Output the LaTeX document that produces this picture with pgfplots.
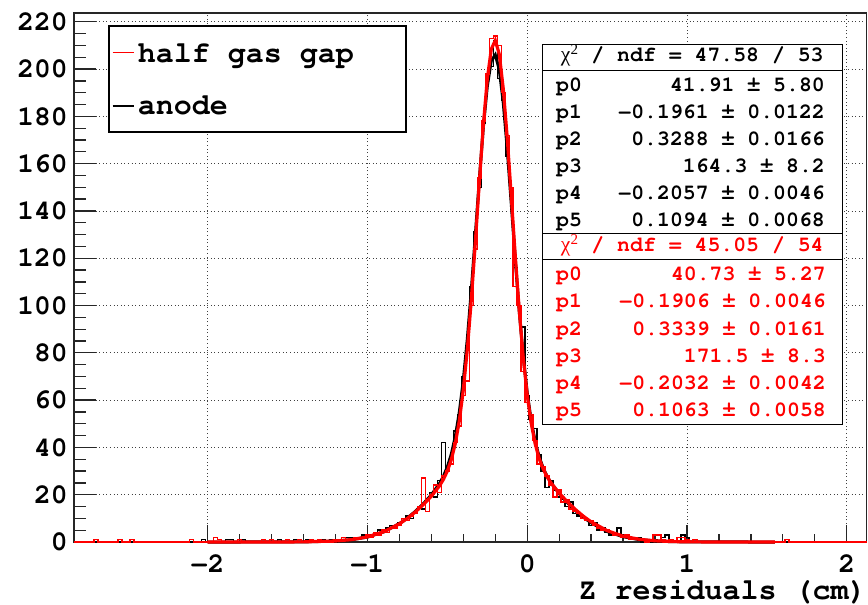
\documentclass[border=0pt]{standalone}
\usepackage{fontspec}
\setmainfont{TeX Gyre Cursor}
\newfontfamily\grk{Liberation Serif}
\usepackage{pgfplots}
\pgfplotsset{compat=1.18}
\newcommand{\tickf}{\fontsize{28bp}{30bp}\selectfont\bfseries}
\newcommand{\titf}{\fontsize{30bp}{32bp}\selectfont\bfseries}
\newcommand{\statf}{\fontsize{21.5bp}{24bp}\selectfont\bfseries}
\newcommand{\chisq}{{\grk\mdseries χ}\textsuperscript{\grk\mdseries 2}}
\begin{document}
\begin{tikzpicture}
\useasboundingbox (-74bp,-63bp) rectangle (794bp,542bp);
\begin{axis}[
  at={(0,0)}, anchor=south west,
  scale only axis, width=792.7bp, height=529bp,
  xmin=-2.837, xmax=2.125, ymin=0, ymax=223.7,
  xtick={-2,-1,0,1,2}, xticklabels={−2,−1,0,1,2},
  ytick={0,20,40,60,80,100,120,140,160,180,200,220},
  yticklabels={0,20,40,60,80,100,120,140,160,180,200,220},
  minor x tick num=4, minor y tick num=3,
  xtick pos=lower, ytick pos=left, tick align=inside,
  major x tick style={/pgfplots/major tick length=17bp},
  minor x tick style={/pgfplots/minor tick length=8bp},
  major y tick style={/pgfplots/major tick length=22bp},
  minor y tick style={/pgfplots/minor tick length=12bp},
  grid=major,
  major grid style={black!75, line width=0.8bp, dash pattern=on 1bp off 2.6bp},
  axis line style={black!85, line width=1.3bp},
  tick style={black!85, line width=1.3bp},
  ticklabel style={font=\tickf},
  yticklabel style={inner sep=0pt, anchor=east, xshift=-6bp},
  xticklabel style={inner sep=0pt, anchor=north, yshift=-12bp},
  xlabel={Z residuals (cm)},
  xlabel style={font=\titf, at={(axis description cs:1,0)}, anchor=base east, inner sep=0pt, yshift=-57bp},
  clip=false,
]
% anode histogram
\addplot[black, line width=1.5bp, const plot mark mid] coordinates {
(-2.837,0) (-2.05,0) (-2.025,1) (-2.0,0) (-1.9,0) (-1.875,1) (-1.85,1) (-1.825,0) (-1.8,0) (-1.775,1) (-1.75,0) (-1.575,0) (-1.55,1) (-1.525,0) (-1.475,0) (-1.45,1) (-1.425,0) (-1.4,0) (-1.375,1) (-1.35,0) (-1.3,0) (-1.275,1) (-1.25,0) (-1.225,1) (-1.2,0) (-1.175,1) (-1.15,1) (-1.125,2) (-1.1,2) (-1.075,1) (-1.05,2) (-1.025,3) (-1.0,2) (-0.975,3) (-0.95,4) (-0.925,5) (-0.9,4) (-0.875,6) (-0.85,7) (-0.825,6) (-0.8,8) (-0.775,9) (-0.75,11) (-0.725,10) (-0.7,13) (-0.675,15) (-0.65,14) (-0.625,18) (-0.6,21) (-0.575,19) (-0.55,26) (-0.525,42) (-0.5,30) (-0.475,36) (-0.45,47) (-0.425,54) (-0.4,70) (-0.375,83) (-0.35,108) (-0.325,131) (-0.3,150) (-0.275,177) (-0.25,196) (-0.225,201) (-0.2,212) (-0.175,196) (-0.15,187) (-0.125,163) (-0.1,146) (-0.075,116) (-0.05,100) (-0.025,91) (0,62) (0.025,52) (0.05,48) (0.075,37) (0.1,30) (0.125,23) (0.15,26) (0.175,22) (0.2,19) (0.225,18) (0.25,15) (0.275,17) (0.3,12) (0.325,11) (0.35,10) (0.375,9) (0.4,7) (0.425,8) (0.45,5) (0.475,6) (0.5,4) (0.525,3) (0.55,4) (0.575,6) (0.6,3) (0.625,2) (0.65,1) (0.675,1) (0.7,2) (0.725,0) (0.75,1) (0.775,0) (0.8,1) (0.825,0) (0.85,2) (0.875,3) (0.9,1) (0.925,0) (0.95,0) (0.975,3) (1.0,2) (1.025,0) (2.125,0)
};
% anode fit
\addplot[black, line width=3bp] coordinates {
(-2.0,0) (-1.8,0.0003) (-1.6,0.0046) (-1.4,0.0515) (-1.2,0.396) (-1.1,0.957) (-1.0,2.108) (-0.9,4.236) (-0.8,7.757) (-0.75,10.14) (-0.7,12.96) (-0.65,16.20) (-0.6,19.96) (-0.55,24.64) (-0.525,27.73) (-0.5,31.75) (-0.475,37.18) (-0.45,44.69) (-0.425,54.92) (-0.4,68.51) (-0.375,85.76) (-0.35,106.4) (-0.325,129.5) (-0.3,153.2) (-0.275,175.2) (-0.25,192.7) (-0.225,203.5) (-0.2,206.0) (-0.175,199.8) (-0.15,185.8) (-0.125,166.1) (-0.1,143.2) (-0.075,119.6) (-0.05,97.64) (-0.025,78.6) (0,63.13) (0.025,51.21) (0.05,42.37) (0.075,35.94) (0.1,31.25) (0.125,27.71) (0.15,24.92) (0.2,20.46) (0.25,16.73) (0.3,13.43) (0.35,10.55) (0.4,8.10) (0.5,4.455) (0.6,2.235) (0.7,1.022) (0.8,0.426) (0.9,0.162) (1.0,0.056) (1.2,0.005) (1.4,0) (1.55,0)
};
% half gas gap histogram
\addplot[red, line width=1.5bp, const plot mark mid] coordinates {
(-2.837,0) (-2.725,0) (-2.7,1) (-2.675,0) (-2.575,0) (-2.55,1) (-2.525,0) (-2.5,0) (-2.475,1) (-2.45,0) (-2.125,0) (-2.1,1) (-2.075,0) (-1.975,0) (-1.95,2) (-1.925,1) (-1.9,0) (-1.825,0) (-1.8,1) (-1.775,0) (-1.675,0) (-1.65,1) (-1.625,0) (-1.6,1) (-1.575,0) (-1.525,0) (-1.5,1) (-1.475,0) (-1.45,0) (-1.425,1) (-1.4,0) (-1.375,0) (-1.35,1) (-1.325,0) (-1.3,1) (-1.275,0) (-1.25,0) (-1.225,0) (-1.2,1) (-1.175,1) (-1.15,2) (-1.125,1) (-1.1,1) (-1.075,2) (-1.05,2) (-1.025,2) (-1.0,3) (-0.975,2) (-0.95,4) (-0.925,3) (-0.9,5) (-0.875,4) (-0.85,6) (-0.825,6) (-0.8,7) (-0.775,10) (-0.75,9) (-0.725,11) (-0.7,12) (-0.675,15) (-0.65,27) (-0.625,13) (-0.6,20) (-0.575,24) (-0.55,21) (-0.525,28) (-0.5,30) (-0.475,33) (-0.45,42) (-0.425,49) (-0.4,62) (-0.375,68) (-0.35,100) (-0.325,124) (-0.3,154) (-0.275,178) (-0.25,198) (-0.225,213) (-0.2,214) (-0.175,210) (-0.15,190) (-0.125,172) (-0.1,150) (-0.075,108) (-0.05,100) (-0.025,72) (0,59) (0.025,54) (0.05,43) (0.075,33) (0.1,32) (0.125,28) (0.15,24) (0.175,19) (0.2,22) (0.225,17) (0.25,18) (0.275,14) (0.3,13) (0.325,12) (0.35,10) (0.375,9) (0.4,9) (0.425,7) (0.45,6) (0.475,5) (0.5,5) (0.525,4) (0.55,3) (0.575,3) (0.6,2) (0.625,3) (0.65,1) (0.675,2) (0.7,1) (0.725,1) (0.75,0) (0.775,1) (0.8,3) (0.825,3) (0.85,1) (0.875,0) (0.9,1) (0.925,0) (0.95,2) (0.975,2) (1.0,1) (1.025,0) (1.05,1) (1.075,0) (1.6,0) (1.625,1) (1.65,0) (2.125,0)
};
% half gas gap fit
\addplot[red, line width=3.2bp] coordinates {
(-2.0,0) (-1.8,0.0004) (-1.6,0.0055) (-1.4,0.0577) (-1.2,0.422) (-1.1,0.998) (-1.0,2.157) (-0.9,4.264) (-0.8,7.70) (-0.75,10.01) (-0.7,12.72) (-0.65,15.83) (-0.6,19.37) (-0.55,23.66) (-0.525,26.42) (-0.5,30.0) (-0.475,34.87) (-0.45,41.70) (-0.425,51.28) (-0.4,64.36) (-0.375,81.43) (-0.35,102.4) (-0.325,126.5) (-0.3,151.9) (-0.275,176.0) (-0.25,195.8) (-0.225,208.4) (-0.2,212.1) (-0.175,206.3) (-0.15,191.7) (-0.125,170.8) (-0.1,146.3) (-0.075,121.2) (-0.05,97.99) (-0.025,78.09) (0,62.2) (0.025,50.19) (0.05,41.46) (0.075,35.26) (0.1,30.83) (0.125,27.52) (0.15,24.90) (0.2,20.68) (0.25,17.07) (0.3,13.84) (0.35,10.98) (0.4,8.52) (0.5,4.80) (0.6,2.469) (0.7,1.162) (0.8,0.499) (0.9,0.196) (1.0,0.071) (1.2,0.007) (1.4,0) (1.55,0)
};
\end{axis}
% legend
\draw[fill=white, line width=1.4bp] (35bp,410bp) rectangle (332bp,516bp);
\draw[red, line width=1.2bp] (38.7bp,489.7bp) -- (60bp,489.7bp);
\draw[black, line width=1.2bp] (38.7bp,436bp) -- (60bp,436bp);
\node[anchor=base west, inner sep=0pt, font=\titf] at (63.7bp,479.3bp) {half gas gap};
\node[anchor=base west, inner sep=0pt, font=\titf] at (63.7bp,427bp) {anode};
% stats box anode
\draw[fill=white, line width=1.2bp] (468.3bp,308.7bp) rectangle (768.3bp,497.3bp);
\draw[line width=1.2bp] (468.3bp,471.3bp) -- (768.3bp,471.3bp);
\begin{scope}[every node/.style={inner sep=0pt, font=\statf, text=black}]
\node[anchor=base] at (618.3bp,480.3bp) {\chisq{} / ndf = 47.58 / 53};
\node[anchor=base west] at (482bp,450.3bp) {p0};
\node[anchor=base east] at (751bp,450.3bp) {41.91 ± 5.80};
\node[anchor=base west] at (482bp,423.4bp) {p1};
\node[anchor=base east] at (751bp,423.4bp) {−0.1961 ± 0.0122};
\node[anchor=base west] at (482bp,396.5bp) {p2};
\node[anchor=base east] at (751bp,396.5bp) {0.3288 ± 0.0166};
\node[anchor=base west] at (482bp,369.6bp) {p3};
\node[anchor=base east] at (751bp,369.6bp) {164.3 ± 8.2};
\node[anchor=base west] at (482bp,342.7bp) {p4};
\node[anchor=base east] at (751bp,342.7bp) {−0.2057 ± 0.0046};
\node[anchor=base west] at (482bp,315.8bp) {p5};
\node[anchor=base east] at (751bp,315.8bp) {0.1094 ± 0.0068};
\end{scope}
% stats box half gas gap
\draw[fill=white, line width=1.2bp] (468.3bp,117.7bp) rectangle (768.3bp,308.7bp);
\draw[line width=1.2bp] (468.3bp,282.7bp) -- (768.3bp,282.7bp);
\begin{scope}[every node/.style={inner sep=0pt, font=\statf, text=red}]
\node[anchor=base] at (618.3bp,290.3bp) {\chisq{} / ndf = 45.05 / 54};
\node[anchor=base west] at (482bp,261.3bp) {p0};
\node[anchor=base east] at (752bp,261.3bp) {40.73 ± 5.27};
\node[anchor=base west] at (482bp,234.1bp) {p1};
\node[anchor=base east] at (752bp,234.1bp) {−0.1906 ± 0.0046};
\node[anchor=base west] at (482bp,206.9bp) {p2};
\node[anchor=base east] at (752bp,206.9bp) {0.3339 ± 0.0161};
\node[anchor=base west] at (482bp,179.7bp) {p3};
\node[anchor=base east] at (752bp,179.7bp) {171.5 ± 8.3};
\node[anchor=base west] at (482bp,152.5bp) {p4};
\node[anchor=base east] at (752bp,152.5bp) {−0.2032 ± 0.0042};
\node[anchor=base west] at (482bp,125.3bp) {p5};
\node[anchor=base east] at (752bp,125.3bp) {0.1063 ± 0.0058};
\end{scope}
\end{tikzpicture}
\end{document}
